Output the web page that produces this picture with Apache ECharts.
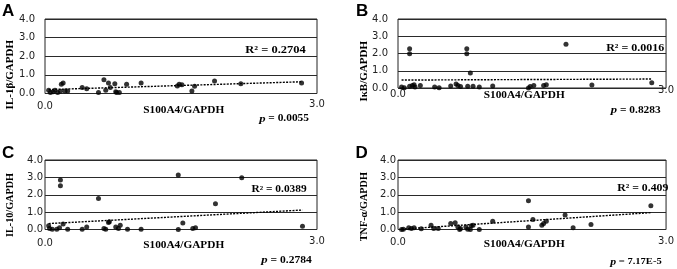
<!DOCTYPE html>
<html>
<head>
<meta charset="utf-8">
<script src="https://cdn.jsdelivr.net/npm/echarts@6/dist/echarts.min.js"></script>
<style>html,body{margin:0;padding:0;background:#fff;}#c{width:677px;height:269px;}</style>
</head>
<body>
<div id="c"></div>
<script>
// ---- data ----
const xTicks = ['0.0', '3.0'];
const yTicks = ['0.0', '1.0', '2.0', '3.0', '4.0'];

const xA = [0.04,0.06,0.09,0.11,0.14,0.17,0.18,0.20,0.22,0.25,0.41,0.46,0.59,0.65,0.67,0.70,0.72,0.77,0.78,0.79,0.82,0.90,1.06,1.46,1.48,1.51,1.62,1.65,1.87,2.16,2.83];
const il1b = [0.18,0.05,0.09,0.18,0.05,0.12,0.49,0.56,0.14,0.14,0.32,0.26,0.05,0.74,0.18,0.56,0.32,0.53,0.09,0.05,0.05,0.49,0.56,0.40,0.49,0.47,0.14,0.39,0.67,0.53,0.56];
const trendA = [[0.04,0.21],[2.83,0.63]];

const xB = [0.04,0.07,0.13,0.13,0.13,0.16,0.18,0.19,0.25,0.41,0.46,0.59,0.65,0.67,0.70,0.77,0.77,0.78,0.81,0.84,0.91,1.06,1.46,1.48,1.52,1.63,1.66,1.88,2.17,2.84];
const ikb = [0.06,0.02,0.10,2.28,1.99,0.14,0.19,0.06,0.14,0.06,0.02,0.12,0.23,0.15,0.08,2.28,1.99,0.10,0.87,0.10,0.06,0.12,0.00,0.08,0.15,0.14,0.19,2.53,0.17,0.31];
const trendB = [[0.04,0.46],[2.84,0.52]];

const xC = [0.04,0.05,0.08,0.13,0.16,0.17,0.17,0.20,0.25,0.41,0.46,0.59,0.65,0.67,0.70,0.71,0.78,0.81,0.83,0.91,1.06,1.47,1.47,1.52,1.63,1.66,1.88,2.17,2.84];
const il10 = [0.21,0.06,0.02,0.02,0.10,2.85,2.52,0.31,0.02,0.02,0.15,1.79,0.06,0.02,0.40,0.44,0.15,0.06,0.25,0.02,0.02,3.13,0.00,0.38,0.06,0.10,1.48,2.98,0.19];
const trendC = [[0.04,0.34],[2.84,1.12]];

const xD = [0.04,0.06,0.12,0.15,0.18,0.26,0.37,0.40,0.45,0.59,0.64,0.67,0.69,0.70,0.76,0.78,0.81,0.82,0.84,0.91,1.06,1.46,1.46,1.51,1.61,1.63,1.66,1.87,1.96,2.16,2.83];
const tnfa = [0.00,0.02,0.10,0.06,0.10,0.04,0.25,0.06,0.06,0.35,0.39,0.15,0.00,0.06,0.15,0.02,0.00,0.21,0.25,0.00,0.48,1.66,0.15,0.58,0.25,0.35,0.48,0.83,0.10,0.29,1.37];
const trendD = [[0.04,0.02],[2.83,0.97]];

const panelLetters = ['A','B','C','D'];
const yTitles = ['IL-1β/GAPDH','IκB/GAPDH','IL-10/GAPDH','TNF-α/GAPDH'];
const xTitle = 'S100A4/GAPDH';
const r2Texts = ['R² = 0.2704','R² = 0.0016','R² = 0.0389','R² = 0.409'];
const pTexts = ['0.0055','0.8283','0.2784','7.17E-5'];

// ---- layout ----
const grids = [
  {left:45, top:19, width:272, height:74.5},
  {left:398, top:19, width:271, height:69},
  {left:45, top:160, width:272, height:69.5},
  {left:398, top:160, width:272, height:69.5}
];
const yLabelMargin = [10,10,2,2];
const xLabMargin = [6,-3,7.4,6.5];
const xLabPad = [3.2,9.2,2.1,2];
const letterPos = [[2,11],[356,11],[2,153.5],[355.5,153.5]];
const yTitlePos = [[10,74.7,11],[364,71.3,11],[10,205,10.2],[364,206.7,10.2]];
const xTitlePos = [[183.7,110.8],[524.2,95.5],[183.7,245],[524.2,244.2]];
const r2Pos = [[305.7,50.3,10.4],[664.3,48.8,10],[306.7,189.5,9.5],[668.3,188.3,9.8]];
const pPos = [[309,118.8,9.5],[660.7,110.3,9.5],[311.7,260.5,9.6],[661.7,262,8.8]];

const xs = [xA,xB,xC,xD];
const ys = [il1b,ikb,il10,tnfa];
const trends = [trendA,trendB,trendC,trendD];

const tickFont = {fontFamily:'DejaVu Sans', fontSize:10, color:'#222'};
const serif = '"Liberation Serif","Times New Roman",serif';

const option = {
  backgroundColor:'#fff',
  animation:false,
  grid: grids.map(g => Object.assign({show:true, borderColor:'#222', borderWidth:1, backgroundColor:'transparent', containLabel:false}, g)),
  xAxis: grids.map((g,i) => ({
    gridIndex:i, type:'value', min:0, max:3, interval:3,
    axisLine:{show:false}, axisTick:{show:false}, splitLine:{show:false},
    axisLabel:{
      showMinLabel:true, showMaxLabel:true, margin:xLabMargin[i], verticalAlign:'top',
      formatter: v => v === 0 ? '{a|' + xTicks[0] + '}' : '{b|' + xTicks[1] + '}',
      rich:{
        a:Object.assign({lineHeight:10, padding:[xLabPad[i],0,0,0]}, tickFont),
        b:Object.assign({lineHeight:10}, tickFont)
      }
    }
  })),
  yAxis: grids.map((g,i) => ({
    gridIndex:i, type:'value', min:0, max:4, interval:1,
    axisLine:{show:false}, axisTick:{show:false},
    splitLine:{show:true, lineStyle:{color:'#2a2a2a', width:1}},
    axisLabel:Object.assign({margin:yLabelMargin[i], formatter: v => yTicks[Math.round(v)]}, tickFont)
  })),
  series: [],
  graphic: []
};

for (let i = 0; i < 4; i++) {
  option.series.push({
    type:'line', xAxisIndex:i, yAxisIndex:i, data:trends[i], showSymbol:false, symbol:'none',
    lineStyle:{color:'#000', width:1.4, type:[2,1.3]}, z:2, silent:true
  });
  option.series.push({
    type:'scatter', xAxisIndex:i, yAxisIndex:i,
    data: xs[i].map((x,k) => [x, ys[i][k]]),
    symbol:'circle', symbolSize:5, itemStyle:{color:'#000'}, z:3
  });
  option.graphic.push({
    type:'text', x:letterPos[i][0], y:letterPos[i][1],
    style:{text:panelLetters[i], fontFamily:'Liberation Sans', fontWeight:'bold', fontSize:17, fill:'#000', textAlign:'left', textVerticalAlign:'middle'}
  });
  option.graphic.push({
    type:'text', x:yTitlePos[i][0], y:yTitlePos[i][1], rotation:Math.PI/2,
    style:{text:yTitles[i], fontFamily:serif, fontWeight:'bold', fontSize:yTitlePos[i][2], fill:'#000', textAlign:'center', textVerticalAlign:'middle'}
  });
  option.graphic.push({
    type:'text', x:xTitlePos[i][0], y:xTitlePos[i][1], scaleX:1.13,
    style:{text:xTitle, fontFamily:serif, fontWeight:'bold', fontSize:10, fill:'#000', textAlign:'center', textVerticalAlign:'middle'}
  });
  option.graphic.push({
    type:'text', x:r2Pos[i][0], y:r2Pos[i][1], scaleX:1.2,
    style:{text:r2Texts[i], fontFamily:serif, fontWeight:'bold', fontSize:r2Pos[i][2], fill:'#000', textAlign:'right', textVerticalAlign:'middle'}
  });
  option.graphic.push({
    type:'text', x:pPos[i][0], y:pPos[i][1], scaleX:1.2,
    style:{text:'{i|p} = ' + pTexts[i], fontFamily:serif, fontWeight:'bold', fontSize:pPos[i][2], fill:'#000', textAlign:'right', textVerticalAlign:'middle',
      rich:{i:{fontFamily:serif, fontWeight:'bold', fontStyle:'italic', fontSize:pPos[i][2]+1, fill:'#000'}}}
  });
}

const chart = echarts.init(document.getElementById('c'), null, {renderer:'canvas'});
chart.setOption(option);
</script>
</body>
</html>
